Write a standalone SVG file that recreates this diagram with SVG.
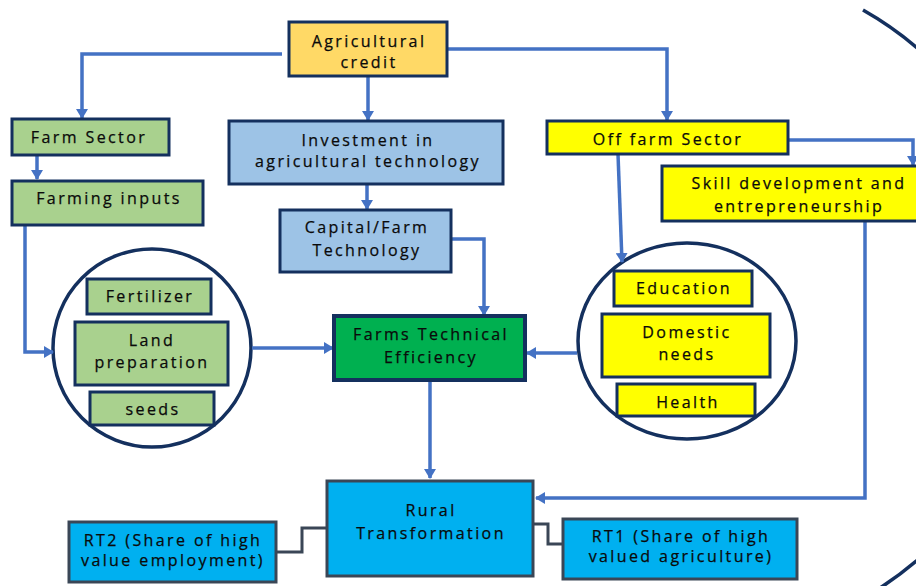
<svg xmlns="http://www.w3.org/2000/svg" width="916" height="586" viewBox="0 0 916 586">
  <defs>
    <marker id="arrow" viewBox="0 0 10 12" refX="9" refY="6" markerWidth="10" markerHeight="12" markerUnits="userSpaceOnUse" orient="auto">
      <path d="M0,0 L10,6 L0,12 z" fill="#4472C4"/>
    </marker>
    <style>
      text { font-family: "Open Sans", "Liberation Sans", sans-serif; font-size: 16px; font-weight: 500; letter-spacing: 2.4px; fill: #0A0A0A; stroke: #0A0A0A; stroke-width: 0.25px; text-anchor: middle; }
      .navy { stroke: #14305E; stroke-width: 3; }
      .slate { stroke: #3A4656; stroke-width: 3; }
      .gold { fill: #FFD966; }
      .green { fill: #A9D18E; }
      .sky { fill: #9DC3E6; }
      .yellow { fill: #FFFF00; }
      .core { fill: #00B050; stroke: #14305E; stroke-width: 4; }
      .cyan { fill: #00B0F0; }
      .ring { fill: none; stroke: #14305E; stroke-width: 3.5; }
      .flow { fill: none; stroke: #4472C4; stroke-width: 3.5; }
      .arrowed { marker-end: url(#arrow); }
      .link { fill: none; stroke: #3A4656; stroke-width: 3; }
    </style>
  </defs>
  <rect width="916" height="586" fill="#FFFFFF"/>

  <!-- large enclosing arc on the right -->
  <path class="ring" d="M863,10 A338,338 0 0 1 880,588"/>

  <!-- circles grouping the sub-items -->
  <g id="farm-inputs-circle">
    <circle class="ring" cx="152" cy="348" r="99"/>
  </g>
  <g id="household-circle">
    <ellipse class="ring" cx="687" cy="341" rx="109" ry="98"/>
  </g>

  <g id="connectors">
    <!-- credit to the three branches -->
    <polyline class="flow arrowed" points="282,54 82,54 82,118"/>
    <polyline class="flow arrowed" points="368,76 368,120"/>
    <polyline class="flow arrowed" points="447,49 667,49 667,120"/>
    <!-- farm sector chain -->
    <polyline class="flow arrowed" points="37,155 37,179"/>
    <polyline class="flow arrowed" points="25,226 25,352 53,352"/>
    <polyline class="flow arrowed" points="252,348 333,348"/>
    <!-- technology chain -->
    <polyline class="flow arrowed" points="367,184 367,209"/>
    <polyline class="flow arrowed" points="451,239 484,239 484,315"/>
    <!-- off farm chain -->
    <polyline class="flow arrowed" points="788,140 913,140 913,165"/>
    <polyline class="flow arrowed" points="618,154 622,262"/>
    <polyline class="flow arrowed" points="577,353 527,353"/>
    <polyline class="flow arrowed" points="865,222 865,498 536,498"/>
    <!-- efficiency to transformation -->
    <polyline class="flow arrowed" points="430,381 430,478"/>
    <!-- transformation indicators -->
    <polyline class="link" points="276,552 302,552 302,528 327,528"/>
    <polyline class="link" points="534,524 548,524 548,544 563,544"/>
  </g>

  <g id="agricultural-credit">
    <rect class="gold navy" x="289" y="22" width="158" height="54"/>
    <text x="369" y="47">Agricultural</text>
    <text x="369" y="68">credit</text>
  </g>

  <g id="farm-sector">
    <rect class="green navy" x="12" y="119" width="157" height="36"/>
    <text x="89" y="143">Farm Sector</text>
  </g>

  <g id="farming-inputs">
    <rect class="green navy" x="12" y="181" width="191" height="44"/>
    <text x="109" y="204">Farming inputs</text>
  </g>

  <g id="investment">
    <rect class="sky navy" x="229" y="121" width="274" height="63"/>
    <text x="368" y="146">Investment in</text>
    <text x="368" y="167">agricultural technology</text>
  </g>

  <g id="capital">
    <rect class="sky navy" x="280" y="210" width="171" height="62"/>
    <text x="367" y="233">Capital/Farm</text>
    <text x="367" y="256">Technology</text>
  </g>

  <g id="fertilizer">
    <rect class="green navy" x="87" y="279" width="124" height="35"/>
    <text x="150" y="302">Fertilizer</text>
  </g>

  <g id="land-preparation">
    <rect class="green navy" x="75" y="322" width="153" height="63"/>
    <text x="152" y="346">Land</text>
    <text x="152" y="368">preparation</text>
  </g>

  <g id="seeds">
    <rect class="green navy" x="90" y="392" width="124" height="33"/>
    <text x="153" y="415">seeds</text>
  </g>

  <g id="technical-efficiency">
    <rect class="core" x="334" y="316" width="191" height="64"/>
    <text x="431" y="340">Farms Technical</text>
    <text x="431" y="363">Efficiency</text>
  </g>

  <g id="off-farm-sector">
    <rect class="yellow navy" x="547" y="121" width="241" height="33"/>
    <text x="668" y="145">Off farm Sector</text>
  </g>

  <g id="skill-development">
    <rect class="yellow navy" x="662" y="166" width="272" height="55"/>
    <text x="799" y="189">Skill development and</text>
    <text x="799" y="212">entrepreneurship</text>
  </g>

  <g id="education">
    <rect class="yellow navy" x="614" y="271" width="138" height="35"/>
    <text x="684" y="294">Education</text>
  </g>

  <g id="domestic-needs">
    <rect class="yellow navy" x="602" y="314" width="168" height="63"/>
    <text x="687" y="338">Domestic</text>
    <text x="687" y="360">needs</text>
  </g>

  <g id="health">
    <rect class="yellow navy" x="617" y="384" width="138" height="32"/>
    <text x="688" y="408">Health</text>
  </g>

  <g id="rural-transformation">
    <rect class="cyan slate" x="327" y="481" width="206" height="95"/>
    <text x="431" y="516">Rural</text>
    <text x="431" y="539">Transformation</text>
  </g>

  <g id="rt2">
    <rect class="cyan slate" x="69" y="522" width="207" height="60"/>
    <text x="173" y="546">RT2 (Share of high</text>
    <text x="173" y="566">value employment)</text>
  </g>

  <g id="rt1">
    <rect class="cyan slate" x="563" y="519" width="234" height="60"/>
    <text x="681" y="542">RT1 (Share of high</text>
    <text x="681" y="562">valued agriculture)</text>
  </g>
</svg>
